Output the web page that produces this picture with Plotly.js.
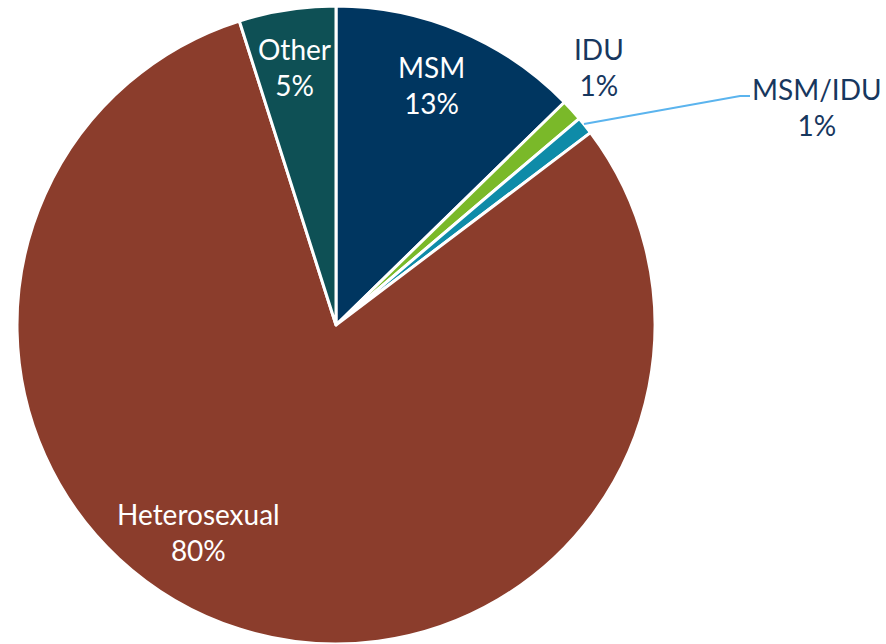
<!DOCTYPE html>
<html>
<head>
<meta charset="utf-8">
<script src="https://cdn.plot.ly/plotly-3.0.1.min.js"></script>
<style>html,body{margin:0;padding:0;background:#fff;}#chart{width:886px;height:644px;}</style>
</head>
<body>
<div id="chart"></div>
<script>
const labels = ["MSM", "IDU", "MSM/IDU", "Heterosexual", "Other"];
const values = [12.7, 1.1, 0.9, 80.4, 4.9];
const colors = ["#003660", "#7AB929", "#0E8BA8", "#8B3D2C", "#0E5055"];

const W = 886, H = 644;
const total = values.reduce((a, b) => a + b, 0);
const pct = values.map(v => Math.round(v / total * 100) + "%");

// label anchor positions in pixels (layout only)
const labelPos = [
  {x: 431, y: 85, c: "#ffffff"},
  {x: 599, y: 67, c: "#17375E"},
  {x: 817, y: 107, c: "#17375E"},
  {x: 198, y: 532, c: "#ffffff"},
  {x: 294, y: 67, c: "#ffffff"}
];

const annotations = labels.map((l, i) => ({
  xref: "paper", yref: "paper",
  x: labelPos[i].x / W, y: 1 - labelPos[i].y / H,
  xanchor: "center", yanchor: "middle",
  text: l + "<br>" + pct[i],
  showarrow: false,
  align: "center",
  font: {family: "Lato, 'Open Sans', sans-serif", size: 28, color: labelPos[i].c}
}));

const data = [{
  type: "pie",
  labels: labels,
  values: values,
  sort: false,
  direction: "clockwise",
  rotation: 0,
  marker: {colors: colors, line: {color: "#ffffff", width: 3}},
  textinfo: "none",
  hoverinfo: "label+percent",
  domain: {x: [17 / W, 655 / W], y: [0, 638 / H]},
  showlegend: false
}];

const layout = {
  width: W, height: H,
  margin: {l: 0, r: 0, t: 0, b: 0},
  paper_bgcolor: "#ffffff",
  showlegend: false,
  annotations: annotations,
  shapes: [{
    type: "path", xref: "paper", yref: "paper",
    path: "M " + (584 / W) + " " + (1 - 124 / H) + " L " + (740 / W) + " " + (1 - 96 / H) + " L " + (750 / W) + " " + (1 - 96 / H),
    line: {color: "#5BB4EE", width: 2}
  }]
};

Plotly.newPlot("chart", data, layout, {displayModeBar: false, staticPlot: true});
</script>
</body>
</html>
